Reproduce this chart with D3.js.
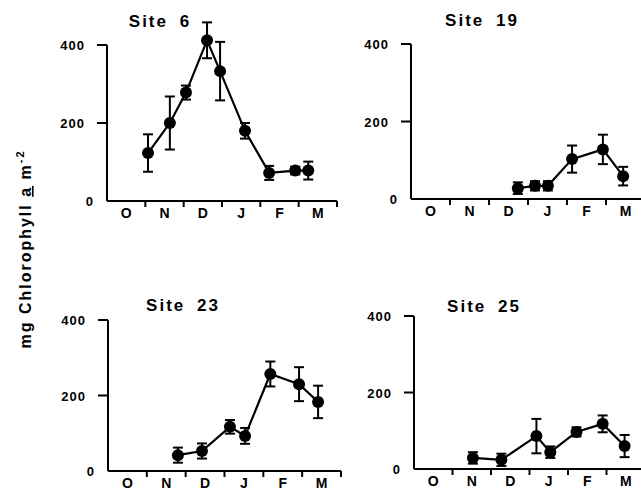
<!DOCTYPE html>
<html>
<head>
<meta charset="utf-8">
<script src="https://cdn.jsdelivr.net/npm/d3@7"></script>
<style>
  body { margin: 0; background: #fff; }
  svg { display: block; font-family: 'Liberation Sans', Arial, sans-serif; }
</style>
</head>
<body>
<svg width="641" height="491"></svg>
<script>
// months since 1 October, chlorophyll a (mg m-2) and error bar half-widths
let months = ['O', 'N', 'D', 'J', 'F', 'M']
let yTicks = [0, 200, 400]

let site6Time = [1.07, 1.64, 2.06, 2.61, 2.95, 3.60, 4.23, 4.91, 5.25]
let site6Chl = [123, 200, 278, 412, 333, 180, 72, 78, 78]
let site6Err = [48, 68, 18, 46, 75, 20, 18, 10, 23]

let site19Time = [2.74, 3.18, 3.51, 4.13, 4.92, 5.44]
let site19Chl = [28, 34, 34, 103, 128, 59]
let site19Err = [15, 12, 12, 35, 38, 24]

let site23Time = [1.80, 2.42, 3.14, 3.53, 4.18, 4.92, 5.41]
let site23Chl = [42, 53, 117, 93, 257, 230, 183]
let site23Err = [20, 20, 18, 21, 33, 45, 43]

let site25Time = [1.53, 2.27, 3.18, 3.54, 4.22, 4.90, 5.47]
let site25Chl = [29, 24, 86, 44, 97, 118, 60]
let site25Err = [15, 16, 45, 15, 12, 22, 29]

let svg = d3.select('svg')

let panels = [
    {title: 'Site 6', time: site6Time, chl: site6Chl, err: site6Err,
     left: 107, right: 337, top: 45, bottom: 201, tx: 160, ty: 27},
    {title: 'Site 19', time: site19Time, chl: site19Chl, err: site19Err,
     left: 411, right: 645, top: 44, bottom: 199, tx: 482, ty: 26},
    {title: 'Site 23', time: site23Time, chl: site23Chl, err: site23Err,
     left: 108, right: 341, top: 320, bottom: 471, tx: 183, ty: 311},
    {title: 'Site 25', time: site25Time, chl: site25Chl, err: site25Err,
     left: 414, right: 645, top: 316, bottom: 469, tx: 484, ty: 312}
]

let drawPanel = (p) => {
    let g = svg.append('g')
    let x = d3.scaleLinear().domain([0, 6]).range([p.left, p.right])
    let y = d3.scaleLinear().domain([0, 400]).range([p.bottom, p.top])

    // y axis
    g.append('line')
        .attr('x1', p.left).attr('x2', p.left)
        .attr('y1', y(0)).attr('y2', y(400))
        .attr('stroke', '#000').attr('stroke-width', 2)
    g.selectAll('.ytick')
        .data(yTicks.filter(v => v > 0))
        .enter()
        .append('line')
        .attr('x1', p.left - 10).attr('x2', p.left)
        .attr('y1', v => y(v)).attr('y2', v => y(v))
        .attr('stroke', '#000').attr('stroke-width', 2)
    g.selectAll('.ylab')
        .data(yTicks)
        .enter()
        .append('text')
        .attr('x', v => v > 0 ? p.left - 22 : p.left - 13)
        .attr('y', v => y(v) + 5)
        .attr('text-anchor', 'end')
        .attr('font-size', 13)
        .attr('font-weight', 'bold')
        .attr('letter-spacing', 1)
        .text(v => v)

    // x axis
    g.append('line')
        .attr('x1', p.left).attr('x2', p.right)
        .attr('y1', y(0)).attr('y2', y(0))
        .attr('stroke', '#000').attr('stroke-width', 2)
    g.selectAll('.xtick')
        .data(d3.range(1, 7))
        .enter()
        .append('line')
        .attr('x1', m => x(m)).attr('x2', m => x(m))
        .attr('y1', y(0)).attr('y2', y(0) + 6)
        .attr('stroke', '#000').attr('stroke-width', 2)
    g.selectAll('.xlab')
        .data(months)
        .enter()
        .append('text')
        .attr('x', (m, i) => x(i + 0.5))
        .attr('y', y(0) + 17)
        .attr('text-anchor', 'middle')
        .attr('font-size', 14)
        .attr('font-weight', 'bold')
        .text(m => m)

    // title
    g.append('text')
        .attr('x', p.tx).attr('y', p.ty)
        .attr('text-anchor', 'middle')
        .attr('font-size', 17)
        .attr('font-weight', 'bold')
        .attr('letter-spacing', 2)
        .attr('word-spacing', 5)
        .text(p.title)

    let pts = p.time.map((t, i) => ({t: t, v: p.chl[i], e: p.err[i]}))

    // error bars
    let eb = g.selectAll('.err').data(pts).enter().append('g')
    eb.append('line')
        .attr('x1', d => x(d.t)).attr('x2', d => x(d.t))
        .attr('y1', d => y(d.v - d.e)).attr('y2', d => y(d.v + d.e))
        .attr('stroke', '#000').attr('stroke-width', 2)
    eb.append('line')
        .attr('x1', d => x(d.t) - 5).attr('x2', d => x(d.t) + 5)
        .attr('y1', d => y(d.v + d.e)).attr('y2', d => y(d.v + d.e))
        .attr('stroke', '#000').attr('stroke-width', 2)
    eb.append('line')
        .attr('x1', d => x(d.t) - 5).attr('x2', d => x(d.t) + 5)
        .attr('y1', d => y(d.v - d.e)).attr('y2', d => y(d.v - d.e))
        .attr('stroke', '#000').attr('stroke-width', 2)

    // connecting line
    g.append('path')
        .datum(pts)
        .attr('d', d3.line().x(d => x(d.t)).y(d => y(d.v)))
        .attr('fill', 'none')
        .attr('stroke', '#000')
        .attr('stroke-width', 2.2)

    // markers
    g.selectAll('circle')
        .data(pts)
        .enter()
        .append('circle')
        .attr('cx', d => x(d.t))
        .attr('cy', d => y(d.v))
        .attr('r', 6)
        .attr('fill', '#000')
}

panels.forEach(drawPanel)

// shared y label
let ylab = svg.append('text')
    .attr('transform', 'translate(31,249) rotate(-90)')
    .attr('text-anchor', 'middle')
    .attr('font-size', 16)
    .attr('font-weight', 'bold')
    .attr('letter-spacing', 2)
ylab.append('tspan').text('mg Chlorophyll ')
ylab.append('tspan').attr('text-decoration', 'underline').text('a')
ylab.append('tspan').text(' m')
ylab.append('tspan').attr('dy', -7).attr('font-size', 11).text('-2')
</script>
</body>
</html>
